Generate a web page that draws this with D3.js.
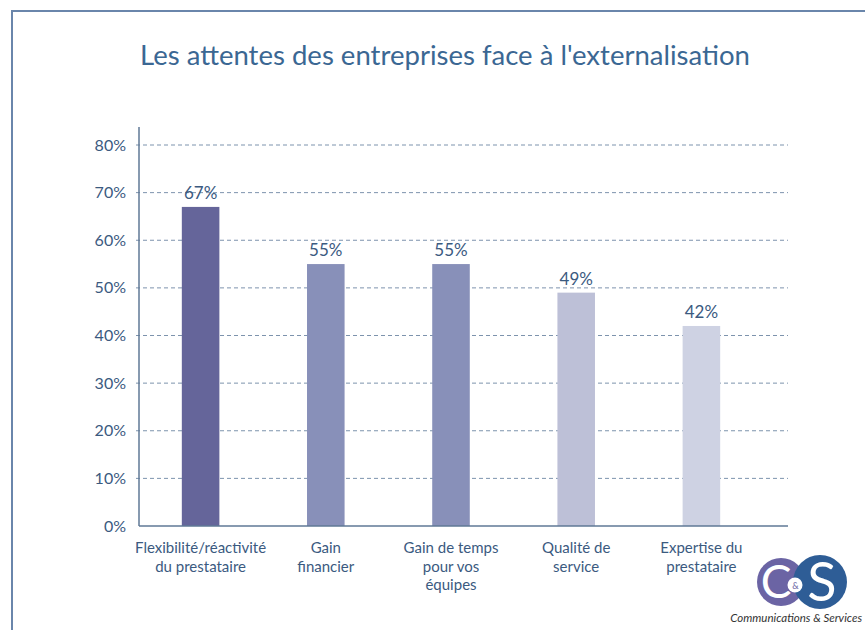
<!DOCTYPE html>
<html>
<head>
<meta charset="utf-8">
<script src="https://cdn.jsdelivr.net/npm/d3@7"></script>
<style>
  html, body { margin: 0; padding: 0; background: #fff; }
  svg { display: block; }
  text { font-family: Lato, "Open Sans", sans-serif; }
</style>
</head>
<body>
<svg id="chart" width="865" height="630"></svg>
<script>
// Chart data
const categories = [
  ["Flexibilité/réactivité", "du prestataire"],
  ["Gain", "financier"],
  ["Gain de temps", "pour vos", "équipes"],
  ["Qualité de", "service"],
  ["Expertise du", "prestataire"]
];
const values = [67, 55, 55, 49, 42];
const barColors = ["#65659a", "#8890b9", "#8890b9", "#bdc0d7", "#ced2e3"];
const yTicks = [0, 10, 20, 30, 40, 50, 60, 70, 80];
const title = "Les attentes des entreprises face à l'externalisation";

const svg = d3.select("#chart");
const textColor = "#3b5a7f";

// Frame
svg.append("path")
  .attr("d", "M12,640 L12,11 L870,11")
  .attr("fill", "none")
  .attr("stroke", "#6a86ab")
  .attr("stroke-width", 2);

// Title
svg.append("text")
  .attr("x", 445).attr("y", 65)
  .attr("text-anchor", "middle")
  .attr("font-size", 27)
  .attr("fill", "#3b6793")
  .attr("textLength", 610)
  .attr("lengthAdjust", "spacingAndGlyphs")
  .text(title);

// Scales
const idx = d3.range(categories.length);
const x = d3.scaleBand()
  .domain(idx)
  .range([138, 764])
  .paddingInner(0.7)
  .paddingOuter(0.35);

const y = d3.scaleLinear().domain([0, 80]).range([526, 145]);

const axisLeft = 139, axisRight = 788;

// Dashed gridlines
svg.append("g")
  .selectAll("line")
  .data(yTicks.filter(d => d > 0))
  .join("line")
  .attr("x1", axisLeft - 3).attr("x2", axisRight)
  .attr("y1", d => y(d)).attr("y2", d => y(d))
  .attr("stroke", "#7d93ad")
  .attr("stroke-width", 1)
  .attr("stroke-dasharray", "4,3");

// Y tick labels
svg.append("g")
  .selectAll("text")
  .data(yTicks)
  .join("text")
  .attr("x", 126)
  .attr("y", d => y(d) + 5.5)
  .attr("text-anchor", "end")
  .attr("font-size", 16)
  .attr("fill", textColor)
  .text(d => d + "%");

// Bars
svg.append("g")
  .selectAll("rect")
  .data(values)
  .join("rect")
  .attr("x", (d, i) => x(i))
  .attr("width", x.bandwidth())
  .attr("y", d => y(d))
  .attr("height", d => y(0) - y(d))
  .attr("fill", (d, i) => barColors[i]);

// Value labels
svg.append("g")
  .selectAll("text")
  .data(values)
  .join("text")
  .attr("x", (d, i) => x(i) + x.bandwidth() / 2)
  .attr("y", d => y(d) - 8)
  .attr("text-anchor", "middle")
  .attr("font-size", 17)
  .attr("fill", textColor)
  .text(d => d + "%");

// Axes lines
svg.append("line")
  .attr("x1", axisLeft).attr("x2", axisLeft)
  .attr("y1", 127).attr("y2", y(0))
  .attr("stroke", "#5f7896").attr("stroke-width", 1.5);
svg.append("line")
  .attr("x1", axisLeft).attr("x2", axisRight)
  .attr("y1", y(0)).attr("y2", y(0))
  .attr("stroke", "#5f7896").attr("stroke-width", 1.5);

// Category labels
const catG = svg.append("g");
categories.forEach((lines, i) => {
  const t = catG.append("text")
    .attr("x", x(i) + x.bandwidth() / 2)
    .attr("y", 553)
    .attr("text-anchor", "middle")
    .attr("font-size", 15)
    .attr("fill", textColor);
  lines.forEach((ln, k) => {
    t.append("tspan")
      .attr("x", x(i) + x.bandwidth() / 2)
      .attr("dy", k === 0 ? 0 : 18.5)
      .text(ln);
  });
});

// Logo
const logo = svg.append("g");
logo.append("circle").attr("cx", 781).attr("cy", 582).attr("r", 24).attr("fill", "#6b64a4");
logo.append("text").attr("x", 776).attr("y", 598)
  .attr("text-anchor", "middle")
  .attr("font-family", "Liberation Serif, serif")
  .attr("font-size", 46).attr("fill", "#fff").text("C");
logo.append("circle").attr("cx", 820).attr("cy", 582).attr("r", 27).attr("fill", "#2e5d96");
logo.append("text").attr("x", 822).attr("y", 601)
  .attr("text-anchor", "middle")
  .attr("font-family", "Liberation Serif, serif")
  .attr("font-size", 54).attr("fill", "#fff").text("S");
logo.append("circle").attr("cx", 795).attr("cy", 585).attr("r", 7.5).attr("fill", "#fff");
logo.append("text").attr("x", 795.5).attr("y", 588.5)
  .attr("text-anchor", "middle")
  .attr("font-family", "Liberation Serif, serif")
  .attr("font-size", 9).attr("fill", "#6b64a4").text("&");
logo.append("text").attr("x", 862).attr("y", 622)
  .attr("text-anchor", "end")
  .attr("font-family", "Liberation Serif, serif")
  .attr("font-style", "italic")
  .attr("font-size", 11.5).attr("fill", "#333")
  .text("Communications & Services");
</script>
</body>
</html>
